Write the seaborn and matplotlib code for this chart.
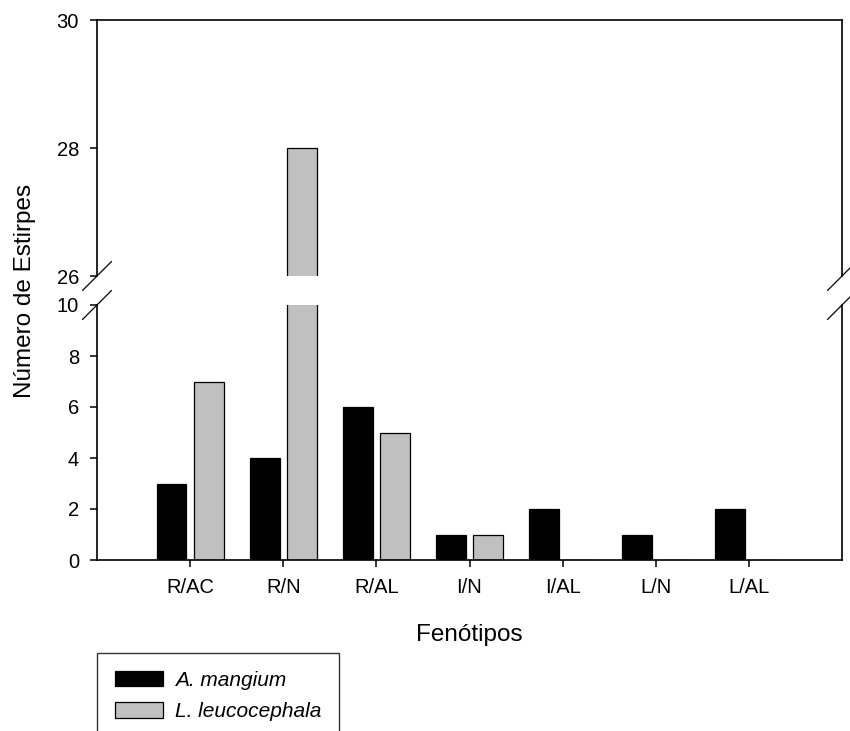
import pandas as pd
import numpy as np

import matplotlib.pyplot as plt
from matplotlib.patches import Patch
import seaborn as sns


# Data
fenotipos = ['R/AC', 'R/N', 'R/AL', 'I/N', 'I/AL', 'L/N', 'L/AL']
a_mangium = [3, 4, 6, 1, 2, 1, 2]
l_leucocephala = [7, 28, 5, 1, 0, 0, 0]
especies = ['A. mangium', 'L. leucocephala']
colores = ['black', '#c0c0c0']

df = pd.DataFrame({
    'Fenotipo': fenotipos * 2,
    'n': a_mangium + l_leucocephala,
    'Especie': [especies[0]] * len(fenotipos) + [especies[1]] * len(fenotipos),
})

sns.set_style('ticks')
plt.rcParams['font.family'] = ['Liberation Sans', 'DejaVu Sans']
plt.rcParams['text.color'] = 'black'

W, H = 850, 731
fig = plt.figure(figsize=(W / 100, H / 100), dpi=100)

left, right = 97 / W, 842 / W
ax_top = fig.add_axes([left, 1 - 276 / H, right - left, (276 - 20) / H])
ax_bot = fig.add_axes([left, 1 - 560 / H, right - left, (560 - 305) / H])

for ax in (ax_top, ax_bot):
    sns.barplot(data=df, x='Fenotipo', y='n', hue='Especie', palette=colores,
                edgecolor='black', linewidth=0.9, gap=0.2, legend=False, ax=ax)
    ax.set_xlim(-1, 7)
    ax.set_xlabel('')
    ax.set_ylabel('')
    for s in ax.spines.values():
        s.set_linewidth(1.2)
        s.set_color('black')
    ax.tick_params(axis='y', direction='out', length=5, width=1.1, pad=8,
                   labelsize=14.5, colors='black', right=False)

ax_top.set_ylim(26, 30)
ax_top.set_yticks([26, 28, 30])
ax_top.spines['bottom'].set_visible(False)
ax_top.tick_params(axis='x', bottom=False, labelbottom=False)

ax_bot.set_ylim(0, 10)
ax_bot.set_yticks([0, 2, 4, 6, 8, 10])
ax_bot.spines['top'].set_visible(False)
ax_bot.tick_params(axis='x', direction='out', length=5, width=1.1, pad=8,
                   labelsize=14.5, colors='black', top=False)

# break marks
d = 14.5
for ax, yb, h in ((ax_top, 0, 256), (ax_bot, 1, 255)):
    for xb in (0, 1):
        ax.plot([xb - d / 745, xb + d / 745], [yb - d / h, yb + d / h],
                transform=ax.transAxes, color='black', lw=0.9, clip_on=False)

fig.text(25 / W, 1 - 291 / H, 'Número de Estirpes', rotation=90,
         ha='center', va='center', fontsize=17.5, color='black')
fig.text((97 + 842) / 2 / W, 1 - 641 / H, 'Fenótipos',
         ha='center', va='baseline', fontsize=17.5, color='black')

handles = [Patch(facecolor=c, edgecolor='black', linewidth=0.9) for c in colores]
leg = fig.legend(handles, especies, loc='upper left',
                 bbox_to_anchor=(97 / W, 1 - 653 / H),
                 prop={'style': 'italic', 'size': 15},
                 frameon=True, fancybox=False, shadow=False,
                 borderpad=0.85, borderaxespad=0, handlelength=2.3,
                 handleheight=0.75, handletextpad=0.6, labelspacing=0.6)
leg.get_frame().set_edgecolor('black')
leg.get_frame().set_linewidth(1.0)
for t in leg.get_texts():
    t.set_color('black')

fig.savefig('out.png', dpi=100)
